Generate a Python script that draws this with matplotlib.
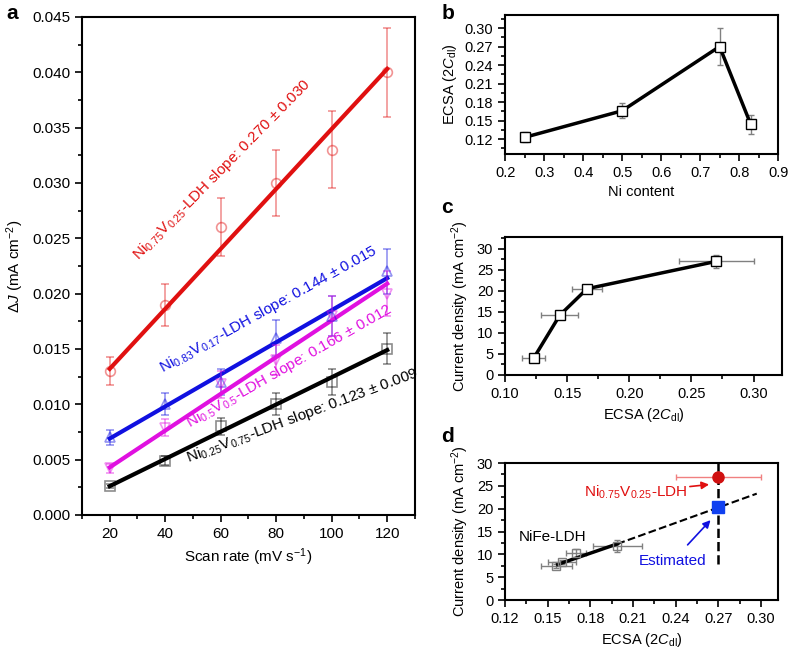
import numpy as np
import matplotlib
matplotlib.use('Agg')
import matplotlib.pyplot as plt
from matplotlib.ticker import MultipleLocator

plt.rcParams['font.family'] = ['Liberation Sans', 'DejaVu Sans']
plt.rcParams['mathtext.fontset'] = 'custom'
plt.rcParams['mathtext.rm'] = 'Liberation Sans'
plt.rcParams['mathtext.it'] = 'Liberation Sans:italic'
plt.rcParams['font.size'] = 10.5

# ---------------- panel a data
scan_rate = [20, 40, 60, 80, 100, 120]

y_ni075 = [0.013, 0.019, 0.026, 0.030, 0.033, 0.040]
e_ni075 = [0.0013, 0.0019, 0.0026, 0.003, 0.0035, 0.004]
y_ni083 = [0.007, 0.010, 0.012, 0.016, 0.018, 0.022]
e_ni083 = [0.0007, 0.001, 0.0012, 0.0016, 0.0018, 0.002]
y_ni05 = [0.0042, 0.0079, 0.0118, 0.014, 0.018, 0.020]
e_ni05 = [0.0004, 0.0008, 0.0012, 0.0014, 0.0018, 0.002]
y_ni025 = [0.0026, 0.0049, 0.008, 0.010, 0.012, 0.015]
e_ni025 = [0.0002, 0.0004, 0.0008, 0.001, 0.0012, 0.0014]

# fitted lines (value at 20 and at 120 mV/s)
fit_ni075 = [0.0132, 0.0403]
fit_ni083 = [0.0069, 0.0214]
fit_ni05 = [0.0043, 0.0209]
fit_ni025 = [0.0026, 0.0149]

# ---------------- panel b data
ni_content = [0.25, 0.5, 0.75, 0.83]
ecsa = [0.123, 0.166, 0.270, 0.144]
ecsa_err = [0.008, 0.012, 0.030, 0.015]

# ---------------- panel c data
ecsa_c = [0.123, 0.144, 0.166, 0.270]
ecsa_c_err = [0.009, 0.015, 0.012, 0.030]
jc = [4.0, 14.2, 20.5, 27.0]
jc_err = [0.4, 1.0, 0.8, 1.5]

# ---------------- panel d data
ecsa_nife = [0.156, 0.160, 0.170, 0.199]
ecsa_nife_err = [0.011, 0.010, 0.007, 0.017]
j_nife = [7.5, 8.3, 10.2, 11.8]
j_nife_err = [0.5, 0.5, 1.0, 1.3]
nife_fit_x = [0.157, 0.199, 0.297]
nife_fit_y = [7.8, 12.3, 23.3]
nv_ecsa, nv_ecsa_err, nv_j = 0.270, 0.030, 27.0
est_ecsa, est_j = 0.270, 20.3
vline_y = [8, 30]

fig = plt.figure(figsize=(7.88, 6.51), dpi=100)


def style(ax):
    for s in ax.spines.values():
        s.set_linewidth(1.5)
    ax.tick_params(which='both', direction='out', width=1.2, top=False, right=False)
    ax.tick_params(which='major', length=5)
    ax.tick_params(which='minor', length=3)


# ======================= a
ax = fig.add_axes([0.104, 0.209, 0.4226, 0.765])
series = [
    (y_ni075, e_ni075, fit_ni075, '#e01010', 'o'),
    (y_ni083, e_ni083, fit_ni083, '#1010e0', '^'),
    (y_ni05, e_ni05, fit_ni05, '#e010e0', 'v'),
    (y_ni025, e_ni025, fit_ni025, 'black', 's'),
]
for y, e, fit, c, m in series:
    ax.errorbar(scan_rate, y, yerr=e, fmt=m, mfc='none', mec=c, ecolor=c,
                alpha=0.45, ms=7, capsize=3, elinewidth=1.2, mew=1.2)
    ax.plot([scan_rate[0], scan_rate[-1]], fit, color=c, lw=3)

fs_lab = 11
ax.text(30.2, 0.0230, r'Ni$_{0.75}$V$_{0.25}$-LDH slope: 0.270 ± 0.030', color='#e01010',
        rotation=45.5, rotation_mode='anchor', fontsize=fs_lab)
ax.text(39.2, 0.01283, r'Ni$_{0.83}$V$_{0.17}$-LDH slope: 0.144 ± 0.015', color='#1010e0',
        rotation=29, rotation_mode='anchor', fontsize=fs_lab)
ax.text(48.9, 0.00786, r'Ni$_{0.5}$V$_{0.5}$-LDH slope: 0.166 ± 0.012', color='#e010e0',
        rotation=29.7, rotation_mode='anchor', fontsize=fs_lab)
ax.text(48.2, 0.00479, r'Ni$_{0.25}$V$_{0.75}$-LDH slope: 0.123 ± 0.009', color='black',
        rotation=20.4, rotation_mode='anchor', fontsize=fs_lab)

ax.set_xlim(10, 130)
ax.set_ylim(0, 0.045)
ax.xaxis.set_major_locator(MultipleLocator(20))
ax.xaxis.set_minor_locator(MultipleLocator(10))
ax.yaxis.set_major_locator(MultipleLocator(0.005))
ax.yaxis.set_minor_locator(MultipleLocator(0.0025))
ax.yaxis.set_major_formatter(plt.FormatStrFormatter('%.3f'))
ax.set_xlabel(r'Scan rate (mV s$^{-1}$)', fontsize=11)
ax.set_ylabel(r'$\Delta J$ (mA cm$^{-2}$)', fontsize=11)
ax.tick_params(labelsize=11)
style(ax)

# ======================= b
axb = fig.add_axes([0.641, 0.7634, 0.3464, 0.2135])
axb.errorbar(ni_content, ecsa, yerr=ecsa_err, fmt='none', ecolor='gray', capsize=2, elinewidth=1)
axb.plot(ni_content, ecsa, color='black', lw=2.5, marker='s', ms=7, mfc='white', mec='black', mew=1)
axb.set_xlim(0.2, 0.9)
axb.set_ylim(0.096, 0.321)
axb.xaxis.set_major_locator(MultipleLocator(0.1))
axb.xaxis.set_minor_locator(MultipleLocator(0.05))
axb.yaxis.set_major_locator(MultipleLocator(0.03))
axb.yaxis.set_minor_locator(MultipleLocator(0.015))
axb.set_yticks([0.12, 0.15, 0.18, 0.21, 0.24, 0.27, 0.30])
axb.yaxis.set_major_formatter(plt.FormatStrFormatter('%.2f'))
axb.set_xlabel('Ni content')
axb.set_ylabel(r'ECSA (2$C_{\rm dl}$)')
style(axb)

# ======================= c
axc = fig.add_axes([0.641, 0.424, 0.3515, 0.212])
axc.errorbar(ecsa_c, jc, xerr=ecsa_c_err, yerr=jc_err, fmt='none', ecolor='gray', capsize=2, elinewidth=1)
axc.plot(ecsa_c, jc, color='black', lw=2.5, marker='s', ms=7, mfc='white', mec='black', mew=1)
axc.set_xlim(0.10, 0.323)
axc.set_ylim(0, 32.8)
axc.xaxis.set_major_locator(MultipleLocator(0.05))
axc.xaxis.set_minor_locator(MultipleLocator(0.025))
axc.yaxis.set_major_locator(MultipleLocator(5))
axc.yaxis.set_minor_locator(MultipleLocator(2.5))
axc.xaxis.set_major_formatter(plt.FormatStrFormatter('%.2f'))
axc.set_xlabel(r'ECSA (2$C_{\rm dl}$)')
axc.set_ylabel(r'Current density (mA cm$^{-2}$)')
style(axc)

# ======================= d
axd = fig.add_axes([0.641, 0.0783, 0.3464, 0.2104])
axd.errorbar(ecsa_nife, j_nife, xerr=ecsa_nife_err, yerr=j_nife_err, fmt='s', mfc='none',
             mec='gray', ecolor='gray', ms=6, capsize=2, elinewidth=1)
axd.plot(nife_fit_x[:2], nife_fit_y[:2], color='black', lw=2.5)
axd.plot(nife_fit_x[1:], nife_fit_y[1:], color='black', lw=1.5, ls='--')
axd.plot([est_ecsa, est_ecsa], vline_y, color='black', lw=1.8, ls='--')
axd.errorbar([nv_ecsa], [nv_j], xerr=[nv_ecsa_err], fmt='o', color='#d01010', ecolor='#f08080',
             ms=8, capsize=2, elinewidth=1)
axd.plot([est_ecsa], [est_j], marker='s', color='#1040f0', ms=9, ls='none')
axd.text(0.1294, 13.9, 'NiFe-LDH', fontsize=11, va='center')
axd.annotate(r'Ni$_{0.75}$V$_{0.25}$-LDH', xy=(0.2635, 25.3), xytext=(0.248, 23.6),
             color='#e01010', fontsize=11, ha='right', va='center',
             arrowprops=dict(arrowstyle='-|>', color='#e01010', lw=1.2, shrinkA=0, shrinkB=0))
axd.annotate('Estimated', xy=(0.2645, 17.5), xytext=(0.238, 8.6),
             color='#1010e0', fontsize=11, ha='center', va='center',
             arrowprops=dict(arrowstyle='-|>', color='#1010e0', lw=1.2, shrinkA=6, shrinkB=0))
axd.set_xlim(0.12, 0.312)
axd.set_ylim(0, 30)
axd.xaxis.set_major_locator(MultipleLocator(0.03))
axd.xaxis.set_minor_locator(MultipleLocator(0.015))
axd.yaxis.set_major_locator(MultipleLocator(5))
axd.yaxis.set_minor_locator(MultipleLocator(2.5))
axd.xaxis.set_major_formatter(plt.FormatStrFormatter('%.2f'))
axd.set_xlabel(r'ECSA (2$C_{\rm dl}$)')
axd.set_ylabel(r'Current density (mA cm$^{-2}$)')
style(axd)

# panel letters
for lab, x, y in [('a', 0.008, 0.980), ('b', 0.560, 0.980), ('c', 0.560, 0.682), ('d', 0.560, 0.329)]:
    fig.text(x, y, lab, fontsize=15, fontweight='bold', va='center')

fig.savefig('out.png', dpi=100)
